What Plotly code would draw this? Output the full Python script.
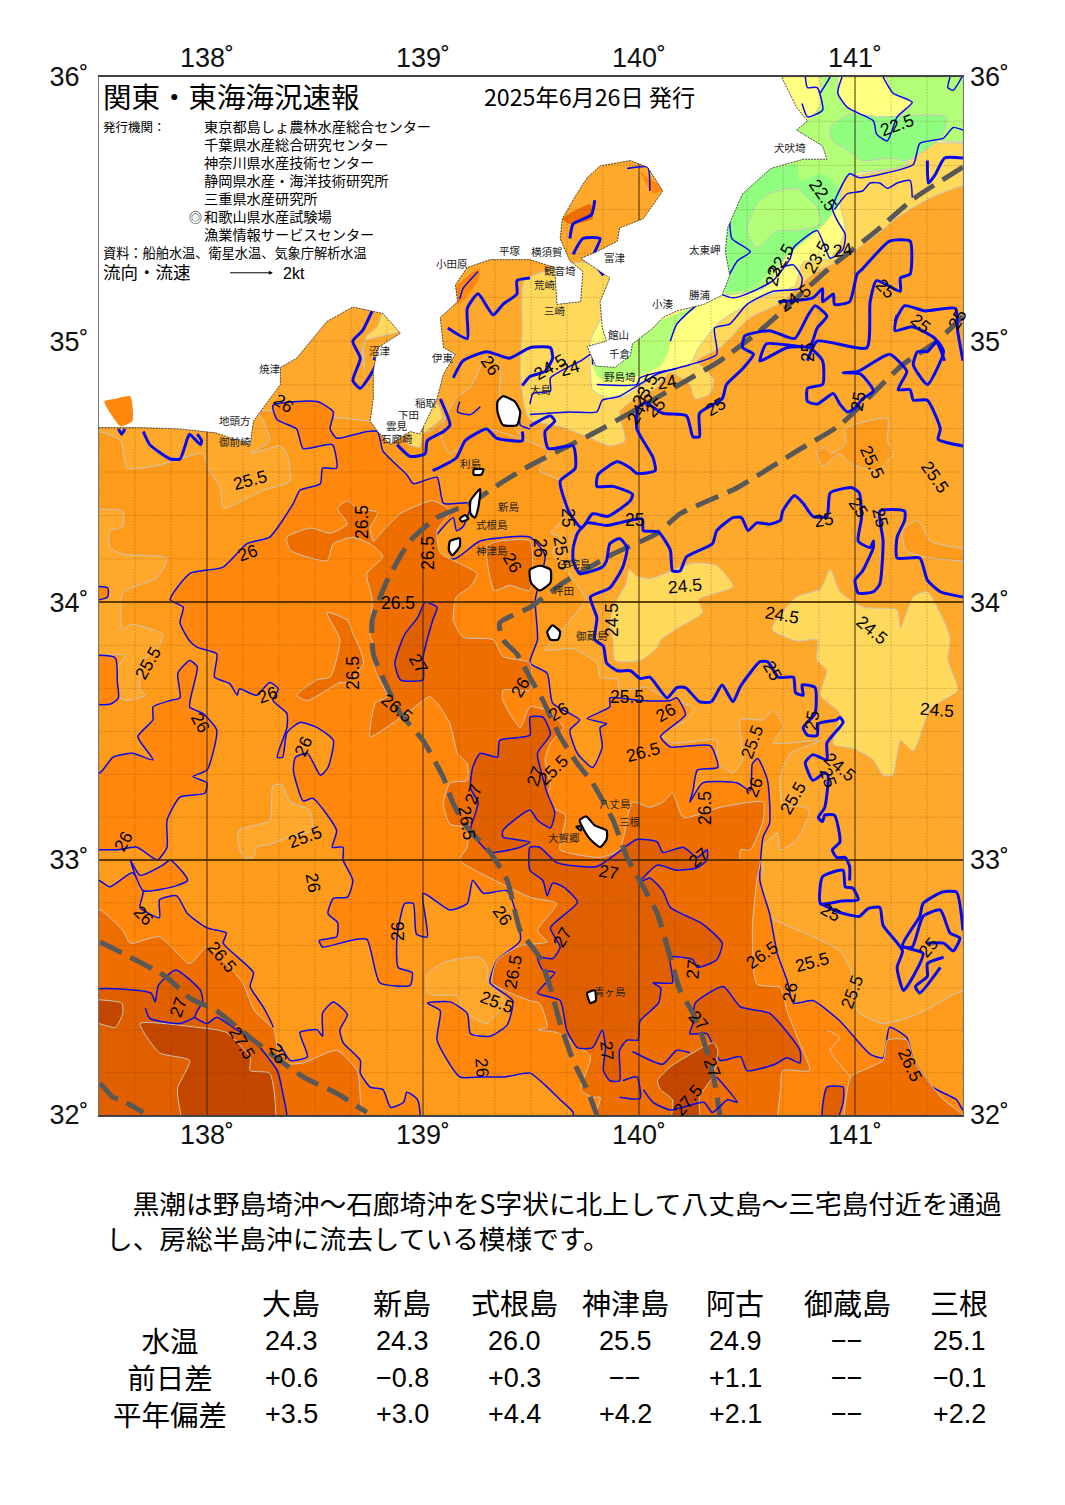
import math
import plotly.graph_objects as go

# ---------- data (lon, lat pairs) ----------
LON_TICKS = [138, 139, 140, 141]
LAT_TICKS = [32, 33, 34, 35, 36]

LAND = [(137.4,36.05),(140.655,36.05),(140.66,36.0),(140.73,35.885),(140.78,35.835),(140.73,35.80),(140.85,35.74),(140.87,35.69),(140.76,35.69),(140.61,35.655),(140.48,35.56),(140.41,35.43),(140.40,35.34),(140.42,35.25),(140.385,35.175),(140.30,35.14),(140.175,35.115),(140.11,35.09),(140.065,35.05),(139.97,34.99),(139.96,34.945),(139.89,34.90),(139.80,34.905),(139.76,34.98),(139.85,35.0),(139.83,35.05),(139.82,35.15),(139.865,35.24),(139.73,35.315),(139.805,35.34),(139.90,35.38),(139.91,35.43),(140.02,35.465),(140.11,35.57),(140.075,35.615),(140.04,35.66),(139.96,35.685),(139.82,35.665),(139.76,35.62),(139.705,35.55),(139.645,35.465),(139.635,35.39),(139.68,35.305),(139.74,35.265),(139.73,35.15),(139.62,35.14),(139.61,35.28),(139.495,35.31),(139.31,35.31),(139.205,35.28),(139.15,35.215),(139.16,35.15),(139.08,35.09),(139.095,34.975),(139.15,34.95),(139.095,34.875),(139.065,34.78),(139.0,34.665),(138.985,34.645),(138.94,34.655),(138.85,34.605),(138.79,34.655),(138.755,34.695),(138.77,34.78),(138.77,34.885),(138.79,34.975),(138.895,35.03),(138.815,35.105),(138.675,35.13),(138.555,35.075),(138.51,35.03),(138.415,34.935),(138.34,34.90),(138.34,34.835),(138.215,34.695),(138.20,34.605),(138.04,34.65),(137.875,34.665),(137.69,34.67),(137.5,34.67),(137.4,34.67)]

ISLANDS = [
 [(139.345,34.77),(139.37,34.79),(139.425,34.77),(139.45,34.73),(139.435,34.68),(139.37,34.68),(139.345,34.73)],
 [(139.235,34.51),(139.28,34.51),(139.27,34.49),(139.235,34.49)],
 [(139.22,34.39),(139.265,34.435),(139.255,34.36),(139.24,34.325),(139.22,34.34)],
 [(139.17,34.32),(139.195,34.335),(139.21,34.32),(139.18,34.31)],
 [(139.125,34.235),(139.17,34.245),(139.17,34.215),(139.135,34.18),(139.12,34.20)],
 [(139.495,34.125),(139.54,34.14),(139.59,34.125),(139.59,34.075),(139.54,34.045),(139.50,34.075)],
 [(139.575,33.885),(139.60,33.91),(139.635,33.885),(139.625,33.855),(139.59,33.855)],
 [(139.725,33.155),(139.755,33.17),(139.795,33.135),(139.85,33.115),(139.85,33.08),(139.82,33.05),(139.775,33.08),(139.74,33.125)],
 [(139.71,33.13),(139.735,33.13),(139.73,33.115)],
 [(139.76,32.48),(139.795,32.49),(139.80,32.45),(139.775,32.44)],
]

W_255 = [(137.4,34.695),(138.755,34.695),(139.03,34.655),(139.22,34.825),(139.295,34.94),(139.355,34.895),(139.355,34.78),(139.40,34.695),(139.46,34.63),(139.58,34.58),(139.54,34.505),(139.635,34.465),(139.65,34.325),(139.59,34.265),(139.635,34.25),(139.60,34.19),(139.665,34.12),(139.75,34.01),(139.68,33.93),(139.565,33.815),(139.695,33.82),(139.805,33.765),(139.82,33.71),(139.90,33.70),(139.91,33.66),(140.035,33.67),(140.10,33.64),(140.25,33.59),(140.22,33.545),(140.13,33.505),(140.11,33.48),(140.155,33.455),(140.36,33.465),(140.36,33.38),(140.435,33.34),(140.48,33.39),(140.47,33.545),(140.575,33.545),(140.62,33.58),(140.67,33.52),(140.62,33.455),(140.84,33.465),(140.70,33.415),(140.655,33.325),(140.665,33.21),(140.745,33.21),(140.79,33.195),(140.73,33.08),(140.655,33.04),(140.64,33.105),(140.56,33.04),(140.575,32.95),(140.515,32.935),(140.53,32.855),(140.575,32.79),(140.805,32.70),(140.93,32.645),(140.98,32.57),(141.01,32.41),(141.13,32.36),(141.30,32.40),(141.47,32.48),(141.53,32.49),(141.6,32.49),(141.6,31.9),(137.4,31.9)]
EAST_255A = [(140.825,34.575),(140.86,34.595),(140.89,34.57),(140.96,34.61),(140.955,34.665),(141.15,34.705),(141.15,34.62),(141.175,34.57),(141.10,34.505),(141.04,34.515),(140.975,34.535),(140.93,34.57),(140.85,34.525)]
EAST_255B = [(141.22,34.275),(141.29,34.315),(141.35,34.235),(141.6,34.185),(141.6,34.16),(141.35,34.17),(141.235,34.20)]

PATCH_25_A = [(137.4,34.73),(138.23,34.73),(138.29,34.62),(138.20,34.57),(138.34,34.60),(138.37,34.57),(138.385,34.465),(138.26,34.43),(138.185,34.40),(138.075,34.36),(138.06,34.44),(138.005,34.515),(137.98,34.57),(137.77,34.525),(137.63,34.515),(137.60,34.62),(137.505,34.655),(137.4,34.66)]
PATCH_25_B = [(137.4,34.34),(137.61,34.35),(137.61,34.29),(137.55,34.275),(137.55,34.21),(137.61,34.185),(137.815,34.17),(137.77,34.095),(137.61,34.035),(137.61,33.89),(137.645,33.915),(137.795,33.875),(137.77,33.82),(137.705,33.775),(137.69,33.66),(137.715,33.64),(137.62,33.62),(137.55,33.66),(137.54,33.70),(137.62,33.795),(137.4,33.80)]
PATCH_25_C = [(138.145,33.115),(138.29,33.155),(138.305,33.29),(138.345,33.295),(138.385,33.225),(138.475,33.195),(138.485,33.115),(138.385,33.09),(138.29,33.06),(138.23,33.05),(138.215,33.01),(138.17,33.01),(138.145,33.06)]
PATCH_25_D = [(139.02,32.555),(139.095,32.60),(139.265,32.62),(139.30,32.58),(139.30,32.53),(139.38,32.45),(139.355,32.41),(139.295,32.36),(139.185,32.41),(139.155,32.47),(139.08,32.47),(139.02,32.48)]

ISO_26_WEST = [(137.4,33.34),(137.505,33.34),(137.565,33.40),(137.655,33.415),(137.75,33.39),(137.68,33.48),(137.75,33.545),(137.75,33.595),(137.83,33.62),(137.875,33.63),(137.865,33.725),(137.92,33.775),(137.955,33.75),(137.92,33.595),(137.98,33.57),(138.045,33.505),(138.0,33.35),(137.935,33.325),(138.0,33.30),(137.99,33.26),(137.875,33.245),(137.815,33.155),(137.815,33.05),(137.77,33.0),(137.675,33.05),(137.585,33.04),(137.505,33.04),(137.4,33.04)]
ISO_26_NW = [(138.675,32.92),(138.63,33.0),(138.63,33.05),(138.58,33.05),(138.60,33.115),(138.49,33.24),(138.445,33.23),(138.40,33.35),(138.41,33.40),(138.465,33.415),(138.525,33.33),(138.56,33.36),(138.585,33.465),(138.51,33.515),(138.43,33.535),(138.37,33.495),(138.35,33.40),(138.325,33.40),(138.37,33.515),(138.37,33.57),(138.305,33.62),(138.33,33.665),(138.29,33.69),(138.23,33.64),(138.15,33.665),(138.14,33.64),(138.105,33.685),(138.035,33.71),(138.045,33.80),(137.955,33.825),(137.92,33.85),(137.875,33.92),(137.89,33.98),(137.83,34.01),(137.92,34.11),(138.075,34.135),(138.185,34.225),(138.29,34.25),(138.40,34.38),(138.43,34.43),(138.525,34.455),(138.535,34.515),(138.60,34.515),(138.58,34.605),(138.445,34.59),(138.415,34.665),(138.325,34.70),(138.305,34.755),(138.51,34.77),(138.585,34.73),(138.57,34.665),(138.60,34.63),(138.74,34.655),(138.79,34.655),(138.815,34.58),(138.925,34.49),(138.955,34.455),(139.065,34.48),(139.095,34.38),(139.22,34.38),(139.185,34.29),(139.155,34.275),(139.14,34.325),(139.045,34.235),(139.045,34.16),(139.155,34.17),(139.265,34.235),(139.495,34.25)]
ISO_26_E = [(139.565,34.18),(139.52,34.01),(139.53,33.855),(139.495,33.765),(139.575,33.725),(139.60,33.61),(139.725,33.545),(139.68,33.505),(139.715,33.415),(139.785,33.36),(139.83,33.44),(139.82,33.515),(139.85,33.53),(139.76,33.55),(139.865,33.595),(139.865,33.63),(140.005,33.62),(140.145,33.62),(140.175,33.63),(140.215,33.565),(140.10,33.48),(140.145,33.44),(140.33,33.445),(140.365,33.36),(140.27,33.35),(140.25,33.27),(140.235,33.225),(140.295,33.30),(140.455,33.30),(140.515,33.27),(140.525,33.375),(140.55,33.395),(140.595,33.31),(140.605,33.145),(140.575,33.09),(140.56,32.92),(140.605,32.79),(140.64,32.635),(140.685,32.53),(140.715,32.44),(140.805,32.45),(140.93,32.37),(141.07,32.24),(141.13,32.225),(141.16,32.345),(141.24,32.305),(141.27,32.215),(141.36,32.11),(141.47,32.06),(141.5,32.02),(141.6,31.98),(141.6,31.9)]
ISO_26_S = [(139.695,31.9),(139.695,32.01),(139.635,32.06),(139.575,32.11),(139.495,32.165),(139.38,32.15),(139.265,32.15),(139.17,32.15),(139.065,32.295),(139.08,32.41),(139.02,32.44),(139.125,32.445),(139.205,32.40),(139.22,32.32),(139.31,32.31),(139.39,32.355),(139.415,32.45),(139.31,32.52),(139.345,32.61),(139.45,32.685),(139.39,32.88),(139.28,32.87),(139.23,32.92),(139.205,32.83),(139.125,32.805),(139.0,32.87),(139.02,32.70),(138.97,32.71),(138.955,32.83),(138.915,32.83),(138.88,32.70),(138.885,32.58),(138.95,32.56),(138.94,32.51),(138.80,32.52),(138.74,32.69),(138.66,32.685),(138.535,32.66),(138.52,32.685),(138.60,32.70),(138.605,32.755),(138.56,32.79),(138.585,32.85),(138.65,32.855)]
ISO_26_SW = [(137.4,32.92),(137.5,32.92),(137.55,32.895),(137.655,32.95),(137.705,32.88),(137.70,32.855),(137.69,32.815),(137.78,32.775),(137.78,32.845),(137.86,32.86),(137.91,32.79),(138.0,32.735),(138.09,32.715),(138.075,32.675),(138.215,32.56),(138.20,32.505),(138.26,32.425),(138.305,32.345),(138.27,32.335),(138.30,32.295),(138.34,32.27),(138.385,32.215),(138.465,32.23),(138.43,32.325),(138.51,32.335),(138.535,32.31),(138.535,32.40),(138.585,32.445),(138.65,32.395),(138.615,32.335),(138.63,32.285),(138.71,32.215),(138.71,32.165),(138.755,32.11),(138.815,32.10),(138.85,32.03),(138.91,32.05),(138.925,32.09),(138.975,32.06),(138.975,31.9),(137.4,31.9)]
ISO_26_BLOB1 = [(137.645,33.0),(137.69,32.94),(137.795,32.98),(137.83,33.0),(137.89,32.95),(137.91,32.92),(137.86,32.90),(137.705,32.88)]
ISO_26_BLOB2 = [(137.4,33.785),(137.575,33.785),(137.585,33.69),(137.59,33.63),(137.55,33.605),(137.4,33.62)]
ISO_26_BLOB3 = [(137.4,34.055),(137.54,34.055),(137.54,34.02),(137.4,34.0)]

ISO_265_BODY = [(138.37,34.25),(138.48,34.285),(138.57,34.265),(138.65,34.30),(138.605,34.36),(138.65,34.39),(138.695,34.36),(138.79,34.345),(138.755,34.285),(138.77,34.235),(138.815,34.275),(138.895,34.34),(139.045,34.39),(139.125,34.35),(139.065,34.275),(139.08,34.19),(139.25,34.11),(139.22,34.06),(139.155,34.02),(139.14,33.93),(139.185,33.865),(139.325,33.855),(139.37,33.79),(139.495,33.765),(139.495,33.66),(139.37,33.66),(139.37,33.62),(139.45,33.515),(139.495,33.595),(139.575,33.58),(139.65,33.515),(139.59,33.455),(139.565,33.39),(139.59,33.285),(139.575,33.26),(139.60,33.205),(139.66,33.175),(139.645,33.10),(139.635,33.04),(139.82,33.01),(139.91,33.04),(139.97,33.225),(140.05,33.205),(140.11,33.225),(140.155,33.26),(140.205,33.165),(140.375,33.205),(140.575,33.225),(140.575,33.155),(140.515,33.04),(140.47,33.04),(140.47,33.0),(140.56,33.0),(140.545,32.92),(140.525,32.735),(140.545,32.515),(140.655,32.50),(140.685,32.41),(140.745,32.28),(140.79,32.175),(140.665,32.175),(140.655,32.10),(140.605,31.9),(139.775,31.9),(139.82,32.07),(139.785,32.07),(139.73,32.10),(139.775,32.23),(139.62,32.325),(139.53,32.335),(139.575,32.345),(139.54,32.44),(139.495,32.45),(139.32,32.52),(139.345,32.61),(139.45,32.665),(139.575,32.68),(139.53,32.725),(139.62,32.83),(139.495,32.855),(139.335,32.92),(139.17,33.0),(139.205,33.05),(139.205,33.125),(139.125,33.14),(139.095,33.22),(139.125,33.30),(139.205,33.31),(139.205,33.375),(139.16,33.415),(139.125,33.53),(139.065,33.61),(139.03,33.635),(138.94,33.58),(138.855,33.53),(138.755,33.48),(138.78,33.61),(138.835,33.635),(138.78,33.735),(138.77,33.84),(138.755,33.87),(138.765,34.01),(138.74,34.11),(138.815,34.175),(138.755,34.225),(138.675,34.25),(138.585,34.225),(138.555,34.16),(138.385,34.20)]
ISO_265_LOBE = [(138.555,33.96),(138.65,33.93),(138.675,33.88),(138.71,33.815),(138.725,33.765),(138.65,33.69),(138.615,33.69),(138.465,33.62),(138.415,33.64),(138.51,33.70),(138.57,33.71),(138.615,33.855)]
ISO_265_MIYAKE = [(139.295,34.215),(139.355,34.235),(139.495,34.235),(139.495,34.045),(139.40,34.065),(139.33,34.045)]
ISO_265_SE = [(140.98,32.15),(141.035,32.175),(141.13,32.215),(141.15,32.295),(141.24,32.295),(141.27,32.215),(141.36,32.11),(141.41,32.06),(141.5,32.0),(141.6,31.9),(140.96,31.9)]
ISO_265_SE_EDGE = [(140.87,32.335),(140.93,32.305),(140.885,32.255),(140.98,32.15)]
ISO_265_SW = [(137.4,32.805),(137.505,32.805),(137.61,32.725),(137.645,32.675),(137.78,32.70),(137.92,32.595),(138.0,32.66),(138.105,32.58),(138.165,32.52),(138.22,32.41),(138.31,32.335),(138.34,32.205),(138.445,32.205),(138.60,32.255),(138.695,32.175),(138.71,32.06),(138.71,31.9),(137.4,31.9)]

ISO_27_A = [(138.915,33.875),(138.87,33.765),(138.895,33.70),(139.0,33.70),(139.0,33.785),(139.045,33.93),(139.065,33.98),(139.01,34.0),(138.975,33.94)]
ISO_27_B = [(139.23,33.36),(139.265,33.415),(139.345,33.40),(139.355,33.465),(139.495,33.485),(139.495,33.555),(139.555,33.555),(139.59,33.49),(139.53,33.415),(139.555,33.32),(139.575,33.26),(139.61,33.185),(139.59,33.125),(139.53,33.155),(139.495,33.195),(139.37,33.115),(139.37,33.09),(139.495,33.07),(139.45,33.05),(139.31,33.03),(139.22,33.115),(139.24,33.175),(139.255,33.225),(139.22,33.28)]
ISO_27_C = [(139.495,33.05),(139.54,33.05),(139.62,32.99),(139.805,32.975),(139.99,33.08),(140.085,33.07),(140.11,33.03),(140.205,33.05),(140.27,33.01),(140.315,33.04),(140.315,33.0),(140.27,32.97),(140.175,32.96),(140.085,32.98),(140.005,32.915),(140.05,32.93),(140.11,32.88),(140.145,32.815),(140.295,32.75),(140.385,32.675),(140.36,32.61),(140.27,32.58),(140.25,32.61),(140.145,32.62),(140.155,32.52),(140.065,32.52),(140.10,32.50),(140.09,32.44),(140.005,32.37),(139.995,32.295),(139.945,32.295),(139.91,32.255),(139.91,32.135),(139.865,32.135),(139.835,32.175),(139.845,32.265),(139.83,32.335),(139.785,32.265),(139.715,32.265),(139.665,32.335),(139.635,32.45),(139.53,32.48),(139.61,32.56),(139.555,32.57),(139.53,32.62),(139.60,32.615),(139.635,32.66),(139.59,32.735),(139.715,32.835),(139.65,32.895),(139.60,32.91),(139.575,32.86),(139.555,32.92),(139.495,32.96)]
ISO_27_D = [(140.26,32.44),(140.39,32.505),(140.47,32.425),(140.605,32.40),(140.745,32.255),(140.745,32.205),(140.685,32.225),(140.63,32.20),(140.50,32.175),(140.47,32.23),(140.375,32.215),(140.315,32.32),(140.235,32.32),(140.25,32.36)]
ISO_27_E = [(140.87,32.11),(140.945,32.11),(140.945,32.05),(140.915,31.98),(140.85,31.98)]
ISO_27_SW = [(137.4,32.48),(137.74,32.48),(137.76,32.445),(137.775,32.51),(137.855,32.57),(137.97,32.49),(137.98,32.445),(137.955,32.41),(137.945,32.385),(138.0,32.36),(138.045,32.385),(138.12,32.345),(138.215,32.295),(138.325,32.175),(138.345,32.11),(138.37,31.9),(137.4,31.9)]

ISO_275_A = [(140.085,32.135),(140.145,32.19),(140.25,32.245),(140.345,32.285),(140.365,32.255),(140.34,32.15),(140.28,32.07),(140.28,31.9),(140.145,31.9),(140.155,32.06),(140.10,32.10)]
ISO_275_B = [(137.69,32.36),(137.955,32.345),(138.09,32.325),(138.20,32.225),(138.20,32.175),(138.29,32.165),(138.315,32.06),(138.305,31.9),(137.92,31.9),(137.865,32.07),(137.865,32.11),(137.92,32.215),(137.78,32.245)]
ISO_275_C = [(137.4,32.45),(137.605,32.44),(137.61,32.40),(137.575,32.345),(137.4,32.40)]

BAND_24 = [(141.6,35.59),(141.5,35.59),(141.35,35.545),(141.195,35.47),(141.10,35.405),(140.945,35.315),(140.805,35.255),(140.665,35.15),(140.515,35.09),(140.375,34.975),(140.27,34.925),(140.345,34.855),(140.33,34.80),(140.26,34.78),(140.235,34.835),(140.145,34.88),(140.075,34.82),(139.98,34.78),(139.91,34.73),(139.935,34.62),(139.865,34.60),(139.775,34.63),(139.635,34.675),(139.495,34.70),(139.47,34.75),(139.45,34.885),(139.46,35.04),(139.47,35.23),(139.73,35.30),(139.91,35.265),(140.005,35.34),(140.655,36.0),(141.6,36.1)]
BAND_24_B = [(139.955,34.125),(139.94,34.07),(139.88,33.98),(139.865,33.90),(139.88,33.855),(139.89,33.775),(140.005,33.775),(140.085,33.825),(140.10,33.855),(140.19,33.905),(140.295,33.96),(140.275,34.01),(140.435,34.06),(140.36,34.14),(140.25,34.15),(140.05,34.09),(139.99,34.10)]
BAND_24_C = [(140.62,33.91),(140.73,34.02),(140.84,34.05),(140.885,34.125),(140.93,34.04),(141.04,33.98),(141.195,33.97),(141.21,33.90),(141.27,34.02),(141.335,34.04),(141.41,33.93),(141.44,33.86),(141.43,33.775),(141.475,33.66),(141.35,33.59),(141.27,33.425),(141.21,33.465),(141.175,33.33),(141.13,33.33),(141.085,33.39),(140.99,33.435),(140.90,33.45),(140.93,33.57),(140.84,33.64),(140.87,33.735),(140.825,33.775),(140.825,33.855),(140.73,33.85),(140.62,33.89)]
BAND_24_D = [(138.94,34.655),(139.065,34.76),(139.09,34.71),(139.0,34.645),(138.985,34.595),(138.925,34.61)]
BAND_24_E = [(138.73,35.0),(138.895,35.04),(138.815,35.105),(138.79,35.055),(138.74,35.02),(138.72,34.96),(138.73,34.89)]
BAND_23 = [(141.6,35.76),(141.35,35.75),(141.28,35.70),(141.23,35.665),(141.02,35.63),(140.955,35.62),(140.93,35.53),(140.955,35.42),(140.885,35.315),(140.76,35.30),(140.72,35.21),(140.56,35.165),(140.375,35.075),(140.28,34.98),(140.235,34.915),(140.10,34.88),(140.005,34.83),(139.935,34.79),(139.865,34.78),(139.785,34.815),(139.775,34.885),(139.775,35.0),(140.005,35.34),(140.655,36.05),(141.6,36.05)]
BAND_225 = [(140.84,36.05),(140.915,36.0),(140.93,35.91),(141.07,35.845),(141.195,35.85),(141.265,35.90),(141.175,35.94),(141.14,36.05),(141.6,36.05),(141.6,35.76),(141.30,35.76),(141.23,35.665),(141.02,35.64),(140.965,35.63),(140.895,35.49),(140.855,35.445),(140.73,35.37),(140.665,35.305),(140.575,35.20),(140.455,35.18),(140.375,35.18),(140.28,35.53),(140.70,35.815),(140.78,35.835),(140.84,35.895)]
BAND_225_B = [(140.12,35.085),(140.28,35.135),(140.19,35.085),(140.15,35.02),(140.135,34.96),(140.10,34.905),(140.005,34.87),(139.845,34.85),(139.805,34.87),(139.785,34.925),(139.91,35.0)]
BAND_22_A = [(140.885,35.81),(140.98,35.86),(141.115,35.85),(141.425,35.85),(141.395,35.77),(141.24,35.685),(141.16,35.695),(141.035,35.685),(140.945,35.735),(140.895,35.76)]
BAND_22_B = [(140.575,35.645),(140.73,35.67),(140.745,35.61),(140.85,35.635),(140.93,35.57),(140.915,35.51),(140.855,35.445),(140.73,35.355),(140.655,35.305),(140.515,35.20),(140.42,35.19),(140.28,35.305),(140.375,35.645)]
BAND_225_C = [(140.545,35.52),(140.605,35.56),(140.73,35.58),(140.825,35.505),(140.84,35.445),(140.73,35.42),(140.64,35.42),(140.545,35.355),(140.50,35.42)]

HAMANA = [(137.525,34.77),(137.575,34.78),(137.645,34.79),(137.655,34.695),(137.60,34.675),(137.56,34.715)]
BAY_A = [(140.04,35.62),(140.12,35.58),(140.065,35.56),(140.005,35.645)]
BAY_B = [(139.645,35.465),(139.775,35.52),(139.785,35.465),(139.68,35.445)]
SAGAMI_A = [(139.15,35.205),(139.265,35.28),(139.255,35.23),(139.18,35.15),(139.125,35.13)]
OSHIMA_W = [(139.22,34.825),(139.295,34.94),(139.355,34.895),(139.355,34.78),(139.40,34.695),(139.46,34.63),(139.295,34.665),(139.195,34.62),(139.125,34.57),(139.08,34.65),(139.15,34.78)]

# thick isotherms (25 deg and 23 deg)
THICK = [
 [(137.59,34.665),(137.605,34.645),(137.62,34.665)],
 [(137.705,34.655),(137.735,34.605),(137.83,34.55),(137.875,34.55),(137.91,34.63),(137.92,34.645),(137.97,34.605),(137.975,34.62),(137.955,34.645)],
 [(138.765,35.115),(138.72,35.04),(138.675,35.0),(138.71,34.935),(138.675,34.85),(138.71,34.82),(138.74,34.85),(138.77,34.89),(138.79,34.925),(138.77,34.935)],
 [(139.115,35.05),(139.205,35.01),(139.205,35.125),(139.255,35.18),(139.325,35.10),(139.37,35.14),(139.435,35.18),(139.435,35.23),(139.495,35.24)],
 [(139.14,34.86),(139.185,34.925),(139.295,34.96),(139.40,34.935),(139.495,34.975),(139.59,34.975),(139.60,34.935),(139.565,34.885),(139.495,34.865),(139.46,34.83)],
 [(139.08,34.78),(139.125,34.68),(139.095,34.655),(139.02,34.62),(139.01,34.57),(138.94,34.56),(138.88,34.605)],
 [(139.045,34.505),(139.155,34.555),(139.195,34.62),(139.295,34.665),(139.34,34.63),(139.46,34.62),(139.46,34.655)],
 [(139.495,34.675),(139.59,34.715),(139.61,34.695),(139.565,34.655),(139.58,34.59),(139.695,34.60),(139.705,34.515),(139.635,34.465),(139.68,34.34),(139.735,34.285),(139.785,34.34),(139.855,34.33),(139.96,34.39),(139.97,34.415),(139.88,34.445),(139.805,34.445),(139.81,34.49),(139.90,34.54),(139.96,34.515),(139.99,34.495),(140.075,34.505),(140.065,34.555),(139.99,34.665),(139.995,34.745),(140.03,34.765),(140.11,34.725),(140.22,34.715),(140.25,34.635),(140.28,34.635),(140.28,34.725),(140.385,34.78),(140.405,34.835),(140.48,34.895),(140.53,34.95),(140.48,34.975),(140.49,35.02),(140.605,35.04),(140.72,35.01),(140.78,35.095),(140.815,35.135),(140.87,35.095),(140.825,35.05),(140.79,34.98),(140.59,34.99),(140.56,34.925),(140.59,34.935),(140.685,34.975),(140.79,34.975),(140.85,34.925),(140.85,34.835),(140.78,34.82),(140.78,34.77),(140.825,34.76),(140.90,34.80),(140.93,34.76),(140.965,34.73),(141.0,34.745),(141.035,34.78),(141.085,34.81),(141.025,34.875),(140.945,34.88),(141.015,34.885),(141.16,34.95),(141.24,34.885),(141.22,34.85),(141.20,34.815),(141.255,34.815),(141.27,34.775),(141.335,34.775),(141.395,34.665),(141.385,34.625),(141.5,34.60)],
 [(140.645,35.15),(140.805,35.165),(140.85,35.20),(140.85,35.15),(140.90,35.18),(140.905,35.14),(140.975,35.15),(141.01,35.255),(141.035,35.275),(141.16,35.38),(141.255,35.38),(141.255,35.255),(141.21,35.24),(141.21,35.19),(141.10,35.23),(141.07,35.15),(141.055,34.975),(140.825,35.0),(140.78,34.925)],
 [(141.185,35.075),(141.23,35.135),(141.325,35.115),(141.465,35.125),(141.475,35.04),(141.5,34.925)],
 [(141.195,35.10),(141.185,35.04),(141.265,35.055),(141.37,35.01),(141.415,34.925)],
 [(141.29,34.96),(141.27,34.91),(141.335,34.835),(141.41,34.96),(141.38,35.0),(141.335,34.96),(141.29,34.96)],
 [(139.695,34.21),(139.715,34.265),(139.76,34.305),(139.85,34.295),(140.015,34.32),(140.02,34.275),(140.09,34.27),(140.145,34.20),(140.155,34.12),(140.19,34.12),(140.22,34.175),(140.34,34.225),(140.36,34.275),(140.435,34.325),(140.475,34.325),(140.505,34.275),(140.545,34.305),(140.605,34.30),(140.655,34.315),(140.665,34.35),(140.72,34.41),(140.76,34.38),(140.805,34.33),(140.87,34.33),(140.885,34.42),(140.985,34.44),(141.02,34.42),(141.03,34.325),(141.015,34.235),(141.07,34.21),(141.085,34.235),(141.085,34.21),(141.035,34.12),(141.0,34.085),(141.015,34.035),(141.085,34.04),(141.115,34.07),(141.13,34.235),(141.115,34.35),(141.23,34.35),(141.23,34.315),(141.195,34.25),(141.195,34.17),(141.30,34.17),(141.335,34.085),(141.395,34.04),(141.5,34.02)],
 [(139.695,34.21),(139.695,34.16),(139.725,34.11),(139.83,34.135),(139.85,34.16),(139.865,34.225),(139.91,34.245),(139.945,34.21),(139.925,34.135),(139.865,34.055),(139.775,34.02),(139.805,33.94),(139.795,33.855),(139.835,33.83),(139.85,33.765),(139.90,33.735),(139.96,33.735),(140.005,33.705),(140.05,33.71),(140.13,33.63),(140.175,33.67),(140.215,33.67),(140.28,33.615),(140.335,33.615),(140.385,33.68),(140.435,33.615),(140.47,33.675),(140.56,33.77),(140.595,33.77),(140.645,33.71),(140.715,33.71),(140.725,33.65),(140.76,33.64),(140.755,33.68),(140.815,33.67),(140.815,33.57),(140.76,33.515),(140.78,33.485),(140.825,33.485),(140.83,33.53),(140.915,33.545),(140.93,33.555),(140.945,33.535),(140.87,33.455),(140.87,33.39),(140.805,33.41),(140.77,33.38),(140.805,33.31),(140.86,33.34),(140.875,33.33),(140.86,33.205),(140.83,33.165),(140.85,33.15),(140.86,33.175),(140.905,33.175),(140.93,33.07),(140.895,33.04),(140.915,33.01),(140.955,33.01),(140.975,32.975),(140.975,32.92)],
 [(140.85,32.935),(140.945,32.96),(140.955,32.895),(140.99,32.89),(141.015,32.845),(140.94,32.84),(140.84,32.83),(140.85,32.935)],
 [(140.84,32.83),(140.93,32.795),(141.02,32.78),(141.06,32.81),(141.115,32.815),(141.13,32.745),(141.22,32.645),(141.195,32.58),(141.225,32.49),(141.315,32.635),(141.22,32.665),(141.30,32.78),(141.315,32.83),(141.405,32.875),(141.47,32.875),(141.5,32.725)],
 [(141.22,32.66),(141.265,32.66),(141.315,32.78),(141.395,32.805),(141.44,32.715),(141.485,32.695),(141.455,32.645),(141.41,32.675),(141.335,32.675)],
 [(141.41,32.62),(141.335,32.595),(141.335,32.545),(141.28,32.505),(141.30,32.48),(141.395,32.58)],
 [(139.795,35.535),(139.78,35.48),(139.695,35.445),(139.68,35.39)],
 [(139.695,35.33),(139.74,35.39),(139.82,35.39),(139.785,35.315),(139.835,35.25)],
 [(141.335,35.685),(141.34,35.60),(141.37,35.63),(141.415,35.695),(141.5,35.695)],
]
# thin isotherms that are not the edge of a filled band
THIN = [
 [(139.255,35.265),(139.185,35.20),(139.17,35.16)],
 [(139.17,34.77),(139.16,34.73),(139.22,34.72),(139.265,34.75)],
 [(139.45,34.73),(139.45,34.68),(139.495,34.665)],
 [(139.945,35.655),(140.04,35.66),(140.05,35.57)],
 [(140.77,36.0),(140.78,35.96),(140.825,35.96),(140.85,35.875),(140.78,35.85),(140.755,35.90)],
 [(140.885,36.0),(140.84,35.94)],
 [(140.94,36.0),(140.92,35.94),(140.965,35.885),(141.085,35.835),(141.10,35.785),(141.15,35.76),(141.195,35.85),(141.265,35.905),(141.175,35.94),(141.13,36.0)],
 [(141.5,35.80),(141.455,35.81),(141.41,35.77),(141.30,35.75),(141.27,35.67),(141.13,35.635),(141.02,35.62),(140.975,35.635),(140.895,35.505),(140.92,35.455),(140.955,35.405),(140.945,35.35),(140.885,35.315),(140.825,35.42),(140.715,35.355),(140.70,35.315),(140.62,35.23),(140.50,35.18),(140.435,35.165),(140.375,35.18)],
 [(141.44,36.0),(141.43,35.96),(141.455,35.95),(141.495,36.0)],
 [(140.42,35.455),(140.43,35.39),(140.515,35.34),(140.455,35.305),(140.42,35.255)],
 [(141.265,35.545),(141.255,35.61),(141.195,35.60),(141.15,35.58),(141.115,35.60),(141.07,35.60),(141.035,35.57),(140.965,35.56),(140.905,35.50)],
 [(140.655,35.28),(140.715,35.29),(140.755,35.24),(140.745,35.20),(140.62,35.19),(140.50,35.14),(140.42,35.065),(140.35,35.05),(140.36,34.95),(140.235,34.91),(140.085,34.875),(139.91,34.79),(139.83,34.775),(139.805,34.73),(139.68,34.73),(139.495,34.72)],
 [(140.145,35.0),(140.175,35.065),(140.27,35.14)],
 [(139.785,34.91),(139.78,34.95),(139.73,34.925),(139.59,34.86),(139.59,34.81),(139.51,34.80),(139.495,34.76)],
 [(139.805,34.835),(139.99,34.835),(140.005,34.86),(140.11,34.885),(140.175,34.895)],
 [(139.91,32.07),(140.005,32.065),(139.99,32.15),(139.925,32.135)],
 [(139.97,32.25),(140.11,32.20),(140.175,32.255),(140.235,32.245)],
 [(140.02,32.10),(140.065,32.05),(140.145,32.02),(140.30,32.05),(140.34,32.01),(140.41,32.06),(140.455,32.05),(140.36,32.15)],
 [(137.715,32.42),(137.735,32.38),(137.875,32.36),(137.945,32.385)],
]

KUROSHIO_W = [(137.505,32.68),(137.645,32.62),(137.78,32.56),(137.83,32.53),(137.92,32.46),(138.045,32.41),(138.14,32.345),(138.26,32.265),(138.445,32.15),(138.60,32.085),(138.74,32.01)]
KUROSHIO_W2 = [(137.505,32.125),(137.565,32.07),(137.60,32.06),(137.705,32.01)]
KUROSHIO_MAIN = [(141.5,35.66),(141.27,35.54),(141.10,35.42),(140.885,35.28),(140.575,35.05),(140.375,34.925),(140.22,34.85),(139.805,34.655),(139.495,34.525),(139.355,34.455),(139.22,34.38),(139.065,34.325),(138.94,34.235),(138.835,34.085),(138.765,33.93),(138.77,33.80),(138.835,33.67),(138.895,33.57),(139.0,33.465),(139.095,33.32),(139.14,33.22),(139.205,33.125),(139.31,33.03),(139.39,32.92),(139.45,32.725),(139.54,32.62),(139.59,32.50),(139.635,32.36),(139.695,32.215),(139.76,32.10),(139.805,32.0)]
KUROSHIO_E = [(141.5,35.095),(141.38,35.0),(141.22,34.91),(140.93,34.68),(140.73,34.58),(140.455,34.44),(140.19,34.34),(140.085,34.265),(139.88,34.185),(139.65,34.075),(139.495,33.98),(139.355,33.92),(139.37,33.855),(139.435,33.80),(139.495,33.71),(139.555,33.62),(139.635,33.48),(139.715,33.375),(139.785,33.30),(139.88,33.155),(139.945,33.01),(140.02,32.895),(140.085,32.79),(140.145,32.62),(140.19,32.49),(140.25,32.40),(140.295,32.305),(140.345,32.15),(140.375,32.0)]

STATIONS = ["大島", "新島", "式根島", "神津島", "阿古", "御蔵島", "三根"]
ROW_NAMES = ["水温", "前日差", "平年偏差"]
WATER_TEMP = ["24.3", "24.3", "26.0", "25.5", "24.9", "--", "25.1"]
DAY_DIFF = ["+0.6", "-0.8", "+0.3", "--", "+1.1", "--", "-0.1"]
NORMAL_DIFF = ["+3.5", "+3.0", "+4.4", "+4.2", "+2.1", "--", "+2.2"]

ISSUERS = ["東京都島しょ農林水産総合センター", "千葉県水産総合研究センター", "神奈川県水産技術センター",
           "静岡県水産・海洋技術研究所", "三重県水産研究所", "和歌山県水産試験場", "漁業情報サービスセンター"]

# ---------- styles ----------
W, H = 1065, 1505
LEFT, RIGHT, TOP, BOTTOM = 99, 963, 77, 1115
CJK = "Noto Sans CJK JP"
NUM = "Liberation Sans"
BLUE = "#0808F0"
EDGE = "#C9C6BC"
COL = {"22": "#90FF80", "22.5": "#B4FF78", "23": "#FFFF80", "24": "#FFD95B", "25": "#FFA92C",
       "25.5": "#FF9B1A", "26": "#FF880C", "26.5": "#EE6E00", "27": "#E06000", "27.5": "#C44700"}
CURVE = dict(shape="spline", smoothing=0.55)


def merc(lat):
    return math.degrees(math.log(math.tan(math.pi / 4 + math.radians(lat) / 2)))


def xs(pts):
    return [p[0] for p in pts]


def ys(pts):
    return [merc(p[1]) for p in pts]


fig = go.Figure()


def fill(pts, band, edge=None, width=1.0):
    fig.add_trace(go.Scatter(x=xs(pts) + [pts[0][0]], y=ys(pts) + [merc(pts[0][1])], mode="lines", fill="toself",
                             fillcolor=COL[band], hoverinfo="skip", showlegend=False,
                             line=dict(color=edge or COL[band], width=width if edge else 0, **CURVE)))


def line(pts, color, width, dash=None, curve=True):
    style = dict(color=color, width=width, dash=dash)
    if curve:
        style.update(CURVE)
    fig.add_trace(go.Scatter(x=xs(pts), y=ys(pts), mode="lines", hoverinfo="skip", showlegend=False, line=style))


SEA = [(137.4, 31.9), (141.6, 31.9), (141.6, 36.1), (137.4, 36.1)]
fig.add_trace(go.Scatter(x=xs(SEA) + [137.4], y=ys(SEA) + [merc(31.9)], mode="lines", fill="toself", fillcolor=COL["25"],
                         hoverinfo="skip", showlegend=False, line=dict(width=0)))
fill(W_255, "25.5", EDGE)
for p in (EAST_255A, EAST_255B, OSHIMA_W):
    fill(p, "25.5", EDGE)
for p in (PATCH_25_A, PATCH_25_B, PATCH_25_C, PATCH_25_D):
    fill(p, "25", EDGE)
for p in (BAND_24, BAND_24_B, BAND_24_C, BAND_24_D, BAND_24_E):
    fill(p, "24", EDGE)
fill(BAND_23, "23", EDGE)
fill(BAND_225, "22.5", EDGE)
fill(BAND_225_B, "22.5")
fill(BAND_22_A, "22", EDGE)
fill(BAND_22_B, "22")
fill(BAND_225_C, "22.5", EDGE)
fill(BAY_A, "26")
fill(BAY_B, "26.5")
fill(SAGAMI_A, "26")

fill(ISO_26_WEST, "26", BLUE, 1.5)
fill(ISO_26_NW + ISO_26_E + ISO_26_S, "26", BLUE, 1.5)
fill(ISO_26_SW, "26", BLUE, 1.5)
for p in (ISO_26_BLOB1, ISO_26_BLOB2, ISO_26_BLOB3):
    fill(p, "26", BLUE, 1.5)
for p in (ISO_265_BODY, ISO_265_LOBE, ISO_265_SW, ISO_265_SE):
    fill(p, "26.5", EDGE)
fill(ISO_265_MIYAKE, "26.5", EDGE)
line(ISO_265_SE_EDGE, EDGE, 1)
for p in (ISO_27_A, ISO_27_B, ISO_27_C, ISO_27_D, ISO_27_E, ISO_27_SW):
    fill(p, "27", BLUE, 1.5)
for p in (ISO_275_A, ISO_275_B, ISO_275_C):
    fill(p, "27.5", EDGE)

# 10-minute graticule, degree lines on top of the sea only
grid_lon = [137.5 + i / 6 for i in range(25)]
grid_lat = [32 + i / 6 for i in range(25)]
for lon in grid_lon:
    line([(lon, 31.9), (lon, 36.1)], "rgba(90,50,0,0.45)", 1, "1px,2px", False)
for lat in grid_lat:
    line([(137.4, lat), (141.6, lat)], "rgba(90,50,0,0.45)", 1, "1px,2px", False)
for lon in LON_TICKS:
    line([(lon, 31.9), (lon, 36.1)], "rgba(50,30,0,0.85)", 1, None, False)
for lat in (33, 34):
    line([(137.4, lat), (141.6, lat)], "rgba(70,40,0,0.85)", 2, None, False)

for p in (KUROSHIO_W, KUROSHIO_W2, KUROSHIO_MAIN, KUROSHIO_E):
    line(p, "#585858", 5, "24px,10px")
for p in THICK:
    line(p, BLUE, 3)
for p in THIN:
    line(p, BLUE, 1.5)

fig.add_trace(go.Scatter(x=xs(LAND), y=ys(LAND), mode="lines", fill="toself", fillcolor="white", hoverinfo="skip",
                         showlegend=False, line=dict(color="#222222", width=0.8, dash="2px,1px")))
fill(HAMANA, "26")
for p in ISLANDS:
    fig.add_trace(go.Scatter(x=xs(p) + [p[0][0]], y=ys(p) + [merc(p[0][1])], mode="lines", fill="toself",
                             fillcolor="white", hoverinfo="skip", showlegend=False,
                             line=dict(color="black", width=2.2, **CURVE)))

# invisible carrier for the top/right axes
fig.add_trace(go.Scatter(x=[138], y=[merc(34)], xaxis="x2", yaxis="y2", mode="markers", marker=dict(opacity=0),
                         hoverinfo="skip", showlegend=False))

# ---------- text ----------
ann = []


def text(s, px, py, size, font=CJK, anchor="left", angle=0, color="black", align="left"):
    lift = size * 0.07 if font == CJK else 0
    ann.append(dict(text=s, x=px / W, y=1 - (py - lift) / H, xref="paper", yref="paper", xanchor=anchor, yanchor="middle",
                    showarrow=False, textangle=angle, borderpad=0, borderwidth=0, align=align,
                    font=dict(family=font, size=size, color=color)))


text("関東・東海海況速報", 103, 97, 28.5)
text("2025年6月26日 発行", 484, 98, 23.2)
text("発行機関：", 103, 127, 12.5)
for i, name in enumerate(ISSUERS):
    text(name, 204, 127 + 18 * i, 14.2)
text("◎", 189, 217, 13)
text("資料：船舶水温、衛星水温、気象庁解析水温", 103, 253, 13.2)
text("流向・流速", 103, 273, 17.5)
text("2kt", 283, 273, 16, NUM)
ann.append(dict(x=138.305, y=merc(35.26), ax=138.10, ay=merc(35.26), xref="x", yref="y", axref="x", ayref="y",
                text="", showarrow=True, arrowhead=2, arrowsize=0.8, arrowwidth=1, arrowcolor="black"))

PLACES = [("犬吠埼",790,148),("太東岬",705,250),("勝浦",700,295),("小湊",663,304),("館山",618,335),("千倉",620,354),("野島埼",620,377),("富津",615,258),("横須賀",547,252),("観音埼",560,271),("荒崎",545,285),("三崎",555,311),("平塚",510,251),("小田原",452,264),("沼津",380,351),("伊東",443,358),("稲取",426,403),("下田",408,415),("雲見",397,426),("石廊崎",397,439),("焼津",270,369),("地頭方",235,421),("御前崎",235,442),("大島",540,390),("利島",470,464),("新島",508,507),("式根島",492,525),("神津島",492,551),("三宅島",575,564),("坪田",563,591),("御蔵島",592,636),("八丈島",615,804),("三根",630,822),("大賀郷",564,838),("青ヶ島",610,992)]
for name, px, py in PLACES:
    text(name, px, py, 10.5, anchor="center", color="#222222")

ISO_LABELS = [("22.5",897,125,-20),("22.5",823,195,55),("22.5",781,260,-60),("23",773,277,-80),("23.5",817,257,-60),("24",843,250,-8),("24.5",795,298,-35),("25",885,288,45),("25",920,323,40),("25",957,320,-60),("25",808,353,-90),("25",858,402,-80),("25",715,407,-30),("24.5",550,367,-30),("24",570,368,-15),("23.5",645,390,-60),("24",667,382,-10),("24.5",640,408,-60),("25",655,408,-45),("25",635,520,0),("25",568,517,90),("26",540,547,90),("25.5",562,553,80),("25.5",872,462,65),("25.5",935,477,55),("25",858,507,55),("25",880,517,75),("25",823,520,-10),("24.5",685,586,-5),("24.5",782,615,10),("24.5",872,630,40),("24.5",612,620,-90),
 ("25.5",250,480,-15),("26",283,403,35),("26",247,553,-20),("26.5",362,522,-90),("26.5",428,553,-90),("26.5",398,603,0),("26",490,365,55),("26",512,562,60),
 ("25.5",148,663,-60),("26.5",353,673,-90),("26",267,695,-20),("27",418,663,60),("26.5",397,708,40),("26",200,722,60),("26",303,747,-65),("25.5",305,837,-20),("26",123,842,-60),("27",473,795,-70),("26.5",467,823,80),
 ("26",520,688,-60),("26",558,712,-30),("25.5",627,697,0),("26",665,713,-30),("25",772,670,60),("25",812,720,-80),("26.5",643,752,-15),("25.5",752,742,-70),("24.5",840,767,40),("25",828,777,70),("24.5",937,710,5),("26",754,788,-70),("26.5",705,808,-90),("25.5",793,798,-60),("27",698,858,-40),("27",608,872,10),("25.5",553,770,-45),("27",535,777,-70),
 ("26",143,915,45),("26",313,882,80),("26",398,932,-90),("26.5",222,957,50),("27",178,1008,-70),("27.5",242,1043,60),("26",278,1053,65),("26",502,915,55),("26.5",513,972,-80),("25.5",497,1002,20),("26",482,1067,85),
 ("27",562,938,-60),("27",607,1050,85),("27",693,970,-85),("27",698,1020,50),("27",712,1067,70),("27.5",688,1100,-50),("26.5",762,955,-35),("26",790,993,-80),("25.5",812,962,-15),("25.5",852,992,-70),("26.5",910,1065,65),("25",830,912,30),("25",928,948,-50)]
for s, px, py, a in ISO_LABELS:
    text(s, px, py, 17.5, NUM, "center", a)

PARAGRAPH = "　黒潮は野島埼沖～石廊埼沖をS字状に北上して八丈島～三宅島付近を通過<br>し、房総半島沖に流去している模様です。"
text(PARAGRAPH, 106, 1222, 26.7)

COLS = [291, 402, 514, 625, 735, 847, 959]
for s, c in zip(STATIONS, COLS):
    text(s, c, 1304, 29, anchor="center")
text("<br>".join(ROW_NAMES), 170, 1378, 28.5, anchor="center", align="center")
for row, py in zip((WATER_TEMP, DAY_DIFF, NORMAL_DIFF), (1341, 1378, 1414)):
    for s, c in zip(row, COLS):
        text(s.replace("-", "−"), c, py, 27, NUM, "center")

# ---------- layout ----------
xr = [137.5, 141.5]
yr = [merc(32), merc(36)]
axis = dict(showgrid=False, zeroline=False, ticks="", automargin=False, tickfont=dict(family=NUM, size=27, color="#111111"))
dom_x = [LEFT / W, RIGHT / W]
dom_y = [1 - BOTTOM / H, 1 - TOP / H]
lon_text = [f"{v}˚" for v in LON_TICKS]
lat_text = [f"{v}˚" for v in LAT_TICKS]
lat_vals = [merc(v) for v in LAT_TICKS]
fig.update_layout(
    width=W, height=H, autosize=False, margin=dict(l=0, r=0, t=0, b=0), paper_bgcolor="white", plot_bgcolor="white",
    showlegend=False, annotations=ann,
    xaxis=dict(axis, domain=dom_x, range=xr, tickvals=LON_TICKS, ticktext=lon_text, showline=True, linecolor="#444444",
               linewidth=1.5, mirror=True, ticklabelstandoff=-5),
    yaxis=dict(axis, domain=dom_y, range=yr, tickvals=lat_vals, ticktext=lat_text, showline=True, linecolor="#777777",
               linewidth=1, mirror=True, ticklabelstandoff=4),
    xaxis2=dict(axis, domain=dom_x, range=xr, tickvals=LON_TICKS, ticktext=lon_text, overlaying="x", side="top", anchor="y2",
                ticklabelstandoff=4),
    yaxis2=dict(axis, domain=dom_y, range=yr, tickvals=lat_vals, ticktext=lat_text, overlaying="y", side="right", anchor="x2",
                ticklabelstandoff=6),
)
fig.write_html("out.html", config={"displayModeBar": False},
               post_script="document.body.style.margin='0';")
